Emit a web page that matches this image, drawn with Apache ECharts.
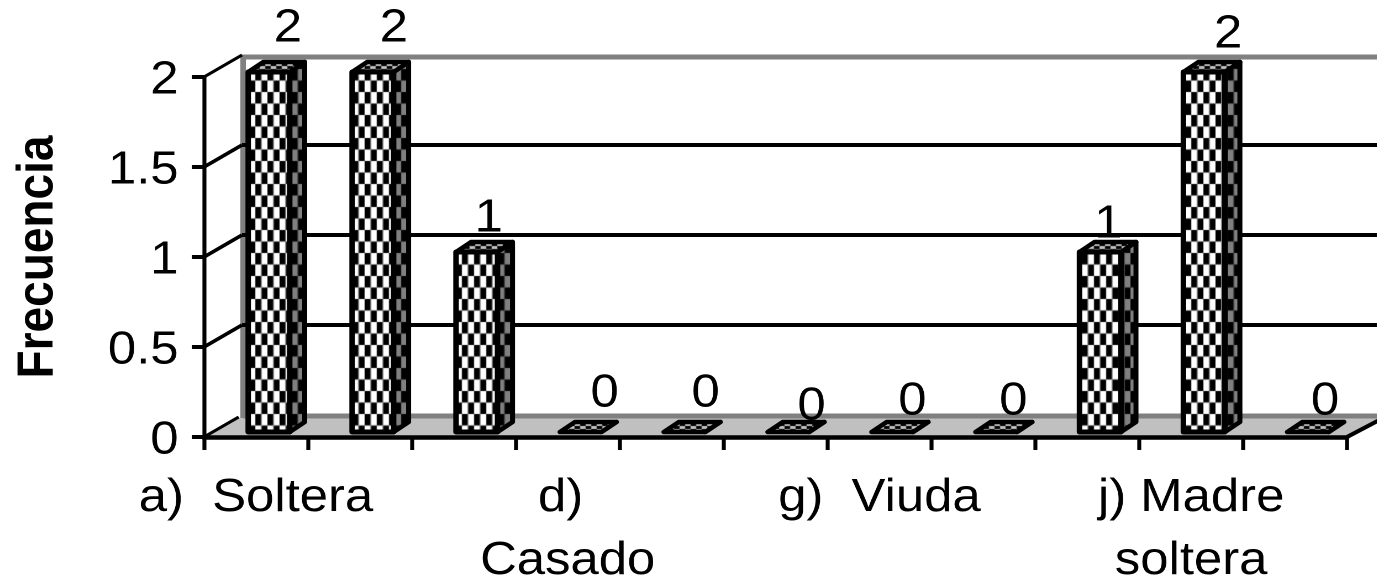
<!DOCTYPE html>
<html>
<head>
<meta charset="utf-8">
<style>html,body{margin:0;padding:0;background:#fff;overflow:hidden;width:1377px;height:579px}
#c{width:1246px;height:579px;transform:scaleX(1.105);transform-origin:0 0}</style>
<script src="https://cdn.jsdelivr.net/npm/echarts@6/dist/echarts.min.js"></script>
</head>
<body>
<div id="c"></div>
<script>
const categories = ['a)  Soltera', '', '', 'd) \nCasado', '', '', 'g)  Viuda', '', '', 'j) Madre\nsoltera', ''];
const frequencies = [2, 2, 1, 0, 0, 0, 0, 0, 1, 2, 0];
const yTicks = [0, 0.5, 1, 1.5, 2];
const valueLabelOffsets = [[19,-43],[21,-43],[12,-33],[24,-38],[21,-38],[23,-25],[20,-30],[17,-30],[8,-27],[24,-37],[17,-30]];

const S = 1.105; // the reference is stretched horizontally; matches the CSS scaleX above
const FONT = '"Liberation Sans", Arial, sans-serif';
const FS = 46;
const WALL = [38 / S, -20], GRIDLINE_DY = -22;
const BAR_W = 41.5 / S, BAR_DX = 13 / S, BAR_DY = -5, DEPTH = [15 / S, -10];

function checker(w, h, bg, fg, cw, ch) {
  const c = document.createElement('canvas');
  c.width = w; c.height = h;
  const g = c.getContext('2d');
  g.fillStyle = bg; g.fillRect(0, 0, w, h);
  g.fillStyle = fg;
  g.fillRect(0, 0, cw, ch);
  g.fillRect(w / 2, h / 2, cw, ch);
  return { image: c, repeat: 'repeat' };
}
const frontFill = checker(11, 23, '#ffffff', '#000000', 5.5, 11.5);
const sideFill = checker(11, 23, '#808080', '#000000', 5.5, 11.5);
const topFill = checker(10, 6, '#c0c0c0', '#000000', 5, 3);

const chart = echarts.init(document.getElementById('c'), null, { renderer: 'canvas', devicePixelRatio: 2, width: 1246, height: 579 });

function poly(points, fill, stroke, lw) {
  return { type: 'polygon', shape: { points }, style: { fill: fill, stroke: stroke || null, lineWidth: lw || 0, lineJoin: 'round' } };
}
function seg(a, b, color, w) {
  return { type: 'line', shape: { x1: a[0], y1: a[1], x2: b[0], y2: b[1] }, style: { stroke: color, lineWidth: w, fill: null } };
}

function renderWall(params, api) {
  const v = api.value(0);
  const p = api.coord([0, v]);
  const half = api.size([1, 0])[0] / 2;
  const left = p[0] - half;
  const right = left + half * 22;
  const y = p[1];
  const children = [];
  if (v === 0) {
    children.push(poly([[left, y], [left + WALL[0], y + WALL[1]], [right + WALL[0], y + WALL[1]], [right, y]], '#c0c0c0'));
    children.push(seg([left + WALL[0] + 1, y + WALL[1] - 1], [right + WALL[0] + 40, y + WALL[1] - 1], '#808080', 5));
    const top = api.coord([0, yTicks[yTicks.length - 1]])[1] + WALL[1];
    children.push(seg([left + WALL[0] + 1, top - 2], [left + WALL[0] + 1, y + WALL[1] + 1], '#808080', 5));
    children.push(seg([right, y], [right + WALL[0], y + WALL[1]], '#000000', 4));
    children.push(seg([left, y], [left + WALL[0] - 3, y + WALL[1]], '#000000', 3));
  } else if (v === yTicks[yTicks.length - 1]) {
    children.push(seg([left + WALL[0], y + WALL[1]], [right + WALL[0] + 40, y + WALL[1]], '#808080', 5));
    children.push(seg([left, y], [left + WALL[0], y + WALL[1] - 2], '#000000', 3));
  } else {
    children.push(seg([left + WALL[0], y + GRIDLINE_DY], [right + WALL[0] + 40, y + GRIDLINE_DY], '#000000', 4));
    children.push(seg([left, y], [left + WALL[0], y + GRIDLINE_DY], '#000000', 3.5));
  }
  return { type: 'group', children };
}

function renderBar(params, api) {
  const i = api.value(0), v = api.value(1);
  const t = api.coord([i, v]), b = api.coord([i, 0]);
  const x0 = t[0] + BAR_DX - BAR_W / 2, x1 = x0 + BAR_W;
  const yT = t[1] + BAR_DY, yB = b[1] + BAR_DY;
  const dx = DEPTH[0], dy = DEPTH[1];
  const children = [];
  children.push(poly([[x1, yT], [x1 + dx, yT + dy], [x1 + dx, yB + dy], [x1, yB]], sideFill, '#000', 4.5));
  children.push(poly([[x0, yT], [x0 + dx, yT + dy], [x1 + dx, yT + dy], [x1, yT]], topFill, '#000', 4.5));
  if (v > 0) children.push(poly([[x0, yT], [x1, yT], [x1, yB], [x0, yB]], frontFill, '#000', 5));
  return { type: 'group', children };
}

function renderValueLabel(params, api) {
  const i = api.value(0), v = api.value(1);
  const t = api.coord([i, v]);
  const off = valueLabelOffsets[i];
  return {
    type: 'text',
    style: {
      x: t[0] + BAR_DX + off[0] / S, y: t[1] + BAR_DY + off[1],
      text: String(v), align: 'center', verticalAlign: 'middle',
      font: FS + 'px ' + FONT, fill: '#000'
    }
  };
}

const points = frequencies.map((v, i) => [i, v]);

chart.setOption({
  animation: false,
  backgroundColor: '#ffffff',
  grid: { left: 204 / S, top: 77, width: 1143 / S, height: 360, containLabel: false, outerBoundsMode: 'none' },
  xAxis: {
    type: 'category', data: categories, z: 6,
    axisLine: { show: true, lineStyle: { color: '#000', width: 4.5 } },
    axisTick: { show: true, interval: 0, length: 13, inside: false, lineStyle: { color: '#000', width: 3.6 } },
    axisLabel: { interval: 0, fontFamily: FONT, fontSize: FS, color: '#000', margin: 30, lineHeight: 63, hideOverlap: false },
    splitLine: { show: false }
  },
  yAxis: {
    type: 'value', min: 0, max: 2, interval: 0.5, z: 6,
    name: 'Frecuencia', nameLocation: 'middle', nameRotate: 90, nameGap: 127,
    nameTextStyle: { fontFamily: FONT, fontSize: 46, fontWeight: 'bold', color: '#000' },
    axisLine: { show: true, lineStyle: { color: '#000', width: 3.6 } },
    axisTick: { show: true, length: 11, lineStyle: { color: '#000', width: 4 } },
    axisLabel: { fontFamily: FONT, fontSize: FS, color: '#000', margin: 23, verticalAlign: 'top', lineHeight: 8 },
    splitLine: { show: false }
  },
  series: [
    { type: 'custom', name: 'wall', z: 1, clip: false, silent: true, coordinateSystem: 'cartesian2d', data: yTicks.map(v => [v]), encode: { y: 0 }, renderItem: renderWall },
    { type: 'custom', name: 'Frecuencia', z: 3, clip: false, silent: true, data: points, encode: { x: 0, y: 1 }, renderItem: renderBar },
    { type: 'custom', name: 'etiquetas', z: 7, clip: false, silent: true, data: points, encode: { x: 0, y: 1 }, renderItem: renderValueLabel }
  ]
});
</script>
</body>
</html>
